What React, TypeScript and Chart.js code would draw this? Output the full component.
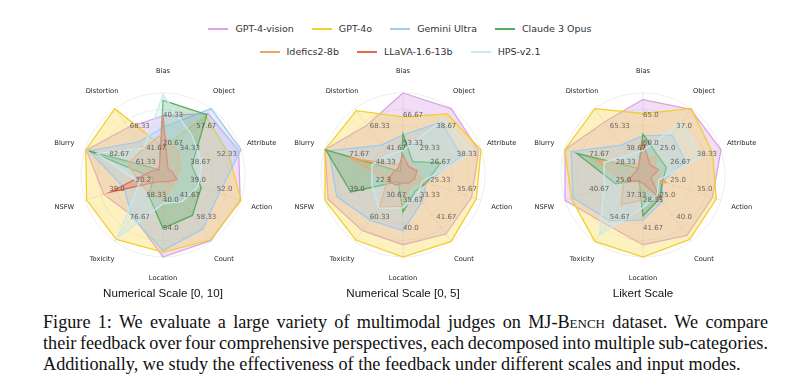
import React, { useEffect, useLayoutEffect, useRef } from 'react';
import { Chart, registerables } from 'chart.js';
Chart.register(...registerables);

const axes = ['Bias', 'Object', 'Attribute', 'Action', 'Count', 'Location', 'Toxicity', 'NSFW', 'Blurry', 'Distortion'];
const models = ['GPT-4-vision', 'GPT-4o', 'Gemini Ultra', 'Claude 3 Opus', 'Idefics2-8b', 'LLaVA-1.6-13b', 'HPS-v2.1'];

// Numerical Scale [0, 10] (normalized radial score per axis, 0-100)
const s10Gpt4v = [72, 93, 97, 99, 99, 100, 62, 76, 98, 72];
const s10Gpt4o = [34, 89, 84, 100, 98, 94, 97, 98, 99, 100];
const s10Gemini = [58, 100, 100, 72, 82, 92, 64, 50, 95, 50];
const s10Claude = [91, 91, 37, 49, 61, 65, 30, 12, 95, 8];
const s10Idefics = [51, 33, 22, 16, 18, 30, 28, 30, 45, 40];
const s10Llava = [73, 10, 12, 18, 10, 8, 10, 68, 15, 8];
const s10Hps = [98, 60, 50, 45, 40, 35, 95, 30, 85, 40];
const s10Outer = ['40.33', '57.67', '52.33', '52.0', '58.33', '54.0', '76.67', '39.0', '82.67', '68.33'];
const s10Inner = ['20.67', '34.33', '38.67', '39.0', '41.67', '40.0', '58.33', '20.2', '61.33', '41.67'];

// Numerical Scale [0, 5]
const s5Gpt4v = [100, 100, 97, 88, 89, 85, 84, 96, 100, 75];
const s5Gpt4o = [71, 92, 100, 94, 100, 100, 98, 100, 100, 97];
const s5Gemini = [49, 80, 75, 30, 40, 68, 68, 85, 95, 45];
const s5Claude = [50, 20, 48, 30, 25, 45, 10, 67, 99, 5];
const s5Idefics = [15, 15, 15, 30, 15, 38, 49, 20, 68, 15];
const s5Llava = [25, 12, 18, 15, 12, 10, 15, 20, 12, 10];
const s5Hps = [30, 85, 90, 25, 30, 40, 50, 40, 40, 30];
const s5Outer = ['66.67', '38.67', '38.33', '35.67', '41.67', '40.0', '60.33', '39.0', '71.67', '68.33'];
const s5Inner = ['53.33', '29.33', '26.67', '25.33', '33.33', '35.67', '30.67', '22.3', '48.33', '41.67'];

// Likert Scale
const likGpt4v = [92, 99, 100, 89, 91, 85, 75, 100, 100, 80];
const likGpt4o = [75, 100, 89, 94, 97, 100, 100, 92, 100, 100];
const likGemini = [48, 60, 55, 25, 40, 55, 69, 90, 92, 45];
const likClaude = [50, 30, 30, 25, 35, 50, 8, 35, 85, 10];
const likIdefics = [20, 28, 15, 30, 15, 30, 45, 25, 60, 15];
const likLlava = [40, 15, 20, 10, 35, 10, 10, 20, 10, 10];
const likHps = [30, 80, 75, 20, 30, 40, 90, 50, 50, 30];
const likOuter = ['65.0', '37.0', '38.33', '35.0', '40.0', '41.67', '54.67', '40.67', '71.67', '65.33'];
const likInner = ['50.0', '25.0', '26.67', '25.0', '25.0', '28.33', '37.33', '25.0', '28.33', '38.67'];

const lineColors = ['#d9a6e3', '#f2cf2e', '#9fcbee', '#56ad62', '#f0a464', '#e8684a', '#c9eaf2'];
const fillColors = [
  'rgba(215,155,228,0.34)', 'rgba(245,210,55,0.32)', 'rgba(150,198,236,0.3)', 'rgba(86,173,98,0.3)',
  'rgba(240,160,96,0.3)', 'rgba(232,104,74,0.3)', 'rgba(195,232,242,0.3)',
];

const OUTER_RING = 69;
const INNER_RING = 35;
const CANVAS = 240;
const PAD = 38;

function RadarPanel({ cx, title, series, outer, inner }: { cx: number; title: string; series: number[][]; outer: string[]; inner: string[] }) {
  const ref = useRef<HTMLCanvasElement>(null);
  useEffect(() => {
    if (!ref.current) return;
    const textPlugin = {
      id: 'radarText',
      afterDatasetsDraw(chart: any) {
        const r = chart.scales.r;
        const ctx = chart.ctx;
        ctx.save();
        ctx.font = '6.7px "DejaVu Sans"';
        ctx.fillStyle = '#222';
        ctx.textAlign = 'center';
        ctx.textBaseline = 'middle';
        axes.forEach((a, i) => {
          const p = r.getPointPosition(i, r.drawingArea * 1.265);
          ctx.fillText(a, p.x, p.y);
        });
        ctx.font = '7px "DejaVu Sans"';
        ctx.fillStyle = 'rgba(70,70,70,0.8)';
        ctx.textAlign = 'left';
        ctx.textBaseline = 'bottom';
        outer.forEach((t, i) => {
          const p = r.getPointPosition(i, r.getDistanceFromCenterForValue(OUTER_RING));
          ctx.fillText(t, p.x, p.y);
        });
        inner.forEach((t, i) => {
          const p = r.getPointPosition(i, r.getDistanceFromCenterForValue(INNER_RING));
          ctx.fillText(t, p.x, p.y);
        });
        ctx.restore();
      },
    };
    const chart = new Chart(ref.current, {
      type: 'radar',
      data: {
        labels: axes,
        datasets: series.map((d, i) => ({
          label: models[i],
          data: d,
          borderColor: lineColors[i],
          backgroundColor: fillColors[i],
          borderWidth: 1.3,
          fill: true,
          pointRadius: 0,
          tension: 0,
          order: 10 - i,
        })),
      },
      options: {
        responsive: false,
        animation: false,
        layout: { padding: PAD },
        plugins: { legend: { display: false }, tooltip: { enabled: false } },
        scales: {
          r: {
            min: 0,
            max: 100,
            ticks: { display: false, stepSize: 20 },
            grid: { circular: true, color: 'rgba(0,0,0,0.09)', lineWidth: 0.8 },
            angleLines: { color: 'rgba(0,0,0,0.12)', lineWidth: 0.8 },
            pointLabels: { display: false },
          },
        },
      },
      plugins: [textPlugin],
    });
    return () => chart.destroy();
  }, []);
  return (
    <>
      <canvas
        ref={ref}
        width={CANVAS}
        height={CANVAS}
        style={{ position: 'absolute', left: cx - CANVAS / 2, top: 175 - CANVAS / 2, width: CANVAS, height: CANVAS }}
      />
      <div
        style={{
          position: 'absolute', left: cx - 100, width: 200, top: 286, textAlign: 'center',
          font: '11.6px "Liberation Sans", Arial, sans-serif', color: '#111',
        }}
      >
        {title}
      </div>
    </>
  );
}

function LegendRow({ idx, top }: { idx: number[]; top: number }) {
  return (
    <div style={{ position: 'absolute', left: 0, width: 800, top, display: 'flex', justifyContent: 'center', gap: 18 }}>
      {idx.map((i) => (
        <div key={i} style={{ display: 'flex', alignItems: 'center', gap: 7 }}>
          <div style={{ width: 20, height: 2, background: lineColors[i] }} />
          <span style={{ font: '9.5px "DejaVu Sans", sans-serif', color: '#333' }}>{models[i]}</span>
        </div>
      ))}
    </div>
  );
}

function CaptionLine({ top, justify, children }: { top: number; justify: boolean; children: React.ReactNode }) {
  const ref = useRef<HTMLSpanElement>(null);
  useLayoutEffect(() => {
    const el = ref.current;
    if (!el || !justify) return;
    el.style.wordSpacing = '0px';
    const w = el.getBoundingClientRect().width;
    const spaces = (el.textContent || '').split(' ').length - 1;
    if (spaces > 0) el.style.wordSpacing = `${(725 - w) / spaces}px`;
  }, []);
  return (
    <div
      style={{
        position: 'absolute', left: 43, top, font: '18.2px "Liberation Serif", "Times New Roman", serif',
        color: '#111', whiteSpace: 'nowrap', lineHeight: '21px',
      }}
    >
      <span ref={ref}>{children}</span>
    </div>
  );
}

export default function App() {
  return (
    <div style={{ position: 'absolute', left: 0, top: 0, width: 800, height: 379, background: '#fff', overflow: 'hidden' }}>
      <LegendRow idx={[0, 1, 2, 3]} top={23} />
      <LegendRow idx={[4, 5, 6]} top={46} />
      <RadarPanel cx={163} title="Numerical Scale [0, 10]" series={[s10Gpt4v, s10Gpt4o, s10Gemini, s10Claude, s10Idefics, s10Llava, s10Hps]} outer={s10Outer} inner={s10Inner} />
      <RadarPanel cx={403} title="Numerical Scale [0, 5]" series={[s5Gpt4v, s5Gpt4o, s5Gemini, s5Claude, s5Idefics, s5Llava, s5Hps]} outer={s5Outer} inner={s5Inner} />
      <RadarPanel cx={643} title="Likert Scale" series={[likGpt4v, likGpt4o, likGemini, likClaude, likIdefics, likLlava, likHps]} outer={likOuter} inner={likInner} />
      <CaptionLine top={312} justify>
        Figure 1: We evaluate a large variety of multimodal judges on MJ-<span style={{ fontVariant: 'small-caps' }}>Bench</span> dataset. We compare
      </CaptionLine>
      <CaptionLine top={333} justify>
        their feedback over four comprehensive perspectives, each decomposed into multiple sub-categories.
      </CaptionLine>
      <CaptionLine top={354} justify={false}>
        Additionally, we study the effectiveness of the feedback under different scales and input modes.
      </CaptionLine>
    </div>
  );
}
